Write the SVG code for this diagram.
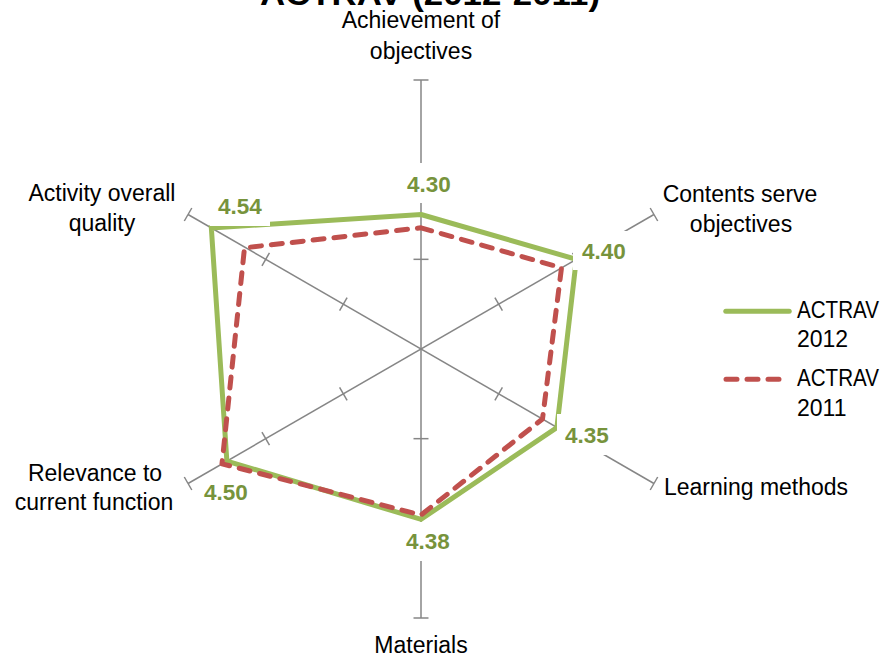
<svg xmlns="http://www.w3.org/2000/svg" width="884" height="659" viewBox="0 0 884 659">
  <style>
    .cat { font-family: "Liberation Sans", Arial, sans-serif; font-size: 23px; fill: #000000; }
    .val { font-family: "Liberation Sans", Arial, sans-serif; font-size: 22.5px; font-weight: bold; fill: #77933C; text-anchor: middle; }
    .title { font-family: "Liberation Sans", Arial, sans-serif; font-size: 31px; font-weight: bold; fill: #000000; }
    .axis { stroke: #868686; stroke-width: 1.5; fill: none; }
    .s2012 { stroke: #9BBB59; stroke-width: 5; fill: none; stroke-linejoin: miter; }
    .s2011 { stroke: #C0504D; stroke-width: 5; fill: none; stroke-dasharray: 11 10; stroke-linecap: round; stroke-linejoin: round; }
    .lblbg { fill: #FFFFFF; stroke: none; }
  </style>
  <rect x="0" y="0" width="884" height="659" fill="#FFFFFF"/>

  <g id="title">
    <text class="title" x="430" y="5" text-anchor="middle" textLength="340" lengthAdjust="spacingAndGlyphs">ACTRAV (2012-2011)</text>
  </g>

  <g id="axes" class="axis">
    <line x1="421" y1="80" x2="421" y2="618"/>
    <line x1="188.05" y1="483.5" x2="653.95" y2="214.5"/>
    <line x1="188.05" y1="214.5" x2="653.95" y2="483.5"/>
    <line x1="413.5" y1="80" x2="428.5" y2="80"/>
    <line x1="413.5" y1="169.67" x2="428.5" y2="169.67"/>
    <line x1="413.5" y1="259.33" x2="428.5" y2="259.33"/>
    <line x1="413.5" y1="438.67" x2="428.5" y2="438.67"/>
    <line x1="413.5" y1="528.33" x2="428.5" y2="528.33"/>
    <line x1="413.5" y1="618" x2="428.5" y2="618"/>
    <line x1="494.9" y1="297.67" x2="502.4" y2="310.67"/>
    <line x1="572.55" y1="252.83" x2="580.05" y2="265.83"/>
    <line x1="650.2" y1="208" x2="657.7" y2="221"/>
    <line x1="502.4" y1="387.33" x2="494.9" y2="400.33"/>
    <line x1="580.05" y1="432.17" x2="572.55" y2="445.17"/>
    <line x1="657.7" y1="477" x2="650.2" y2="490"/>
    <line x1="339.6" y1="387.33" x2="347.1" y2="400.33"/>
    <line x1="261.95" y1="432.17" x2="269.45" y2="445.17"/>
    <line x1="184.3" y1="477" x2="191.8" y2="490"/>
    <line x1="347.1" y1="297.67" x2="339.6" y2="310.67"/>
    <line x1="269.45" y1="252.83" x2="261.95" y2="265.83"/>
    <line x1="191.8" y1="208" x2="184.3" y2="221"/>
  </g>

  <g id="series">
    <polygon id="series-2012" class="s2012" points="421,214.5 576.3,259.33 556.89,427.46 421,519.37 226.87,461.08 211.34,227.95"/>
    <polygon id="series-2011" class="s2011" points="421,227.8 561.5,267.8 542.5,419 421,515 222,463.8 244.5,247.8"/>
  </g>

  <g id="data-labels">
    <g id="label-430"><rect class="lblbg" x="399" y="163" width="60" height="40"/><text class="val" x="429" y="192">4.30</text></g>
    <g id="label-440"><rect class="lblbg" x="573" y="231" width="61" height="39"/><text class="val" x="604" y="259">4.40</text></g>
    <g id="label-435"><rect class="lblbg" x="557" y="414" width="60" height="41"/><text class="val" x="587" y="443">4.35</text></g>
    <g id="label-438"><rect class="lblbg" x="398" y="522" width="60" height="39"/><text class="val" x="428" y="549">4.38</text></g>
    <g id="label-450"><rect class="lblbg" x="206" y="477" width="47" height="31"/><text class="val" x="226" y="500">4.50</text></g>
    <g id="label-454"><rect class="lblbg" x="210" y="186" width="60" height="40"/><text class="val" x="240" y="214">4.54</text></g>
  </g>

  <g id="category-labels">
    <g id="cat-achievement">
      <text class="cat" x="421" y="28" text-anchor="middle">Achievement of</text>
      <text class="cat" x="421" y="59" text-anchor="middle">objectives</text>
    </g>
    <g id="cat-contents">
      <text class="cat" x="740" y="202" text-anchor="middle">Contents serve</text>
      <text class="cat" x="741" y="232" text-anchor="middle">objectives</text>
    </g>
    <g id="cat-learning">
      <text class="cat" x="664" y="495">Learning methods</text>
    </g>
    <g id="cat-materials">
      <text class="cat" x="421" y="653" text-anchor="middle">Materials</text>
    </g>
    <g id="cat-relevance">
      <text class="cat" x="95" y="481" text-anchor="middle">Relevance to</text>
      <text class="cat" x="94" y="510" text-anchor="middle">current function</text>
    </g>
    <g id="cat-activity">
      <text class="cat" x="102" y="201" text-anchor="middle">Activity overall</text>
      <text class="cat" x="102" y="231" text-anchor="middle">quality</text>
    </g>
  </g>

  <g id="legend">
    <g id="legend-2012">
      <line x1="725.8" y1="311.3" x2="789.2" y2="311.3" stroke="#9BBB59" stroke-width="5" stroke-linecap="round"/>
      <text class="cat" x="797" y="318" textLength="82" lengthAdjust="spacingAndGlyphs">ACTRAV</text>
      <text class="cat" x="797" y="347">2012</text>
    </g>
    <g id="legend-2011">
      <line x1="726" y1="379.3" x2="780" y2="379.3" class="s2011"/>
      <text class="cat" x="797" y="386" textLength="82" lengthAdjust="spacingAndGlyphs">ACTRAV</text>
      <text class="cat" x="797" y="416">2011</text>
    </g>
  </g>
</svg>
